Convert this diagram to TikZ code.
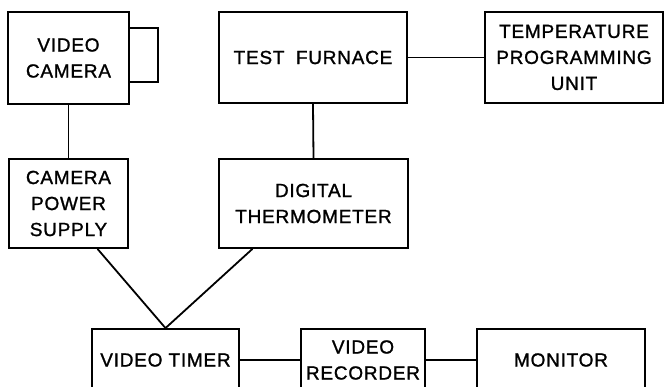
\documentclass[tikz,border=0pt]{standalone}
\usepackage{fontspec}
\setmainfont{Liberation Sans}[LetterSpace=4,FakeBold=1.2]
\usetikzlibrary{calc}
\begin{document}
\begin{tikzpicture}[x=1pt,y=-1pt,
  blk/.style={draw,line width=1.8pt,rectangle,align=center,inner sep=0pt,
    font=\fontsize{19}{26}\selectfont},
  wire/.style={line width=1.8pt}]
\clip (0,0) rectangle (665,387);
\useasboundingbox (0,0) rectangle (665,387);
\node[blk,minimum width=121pt,minimum height=92pt] (cam) at (68.5,58) {VIDEO\\CAMERA};
\node[blk,minimum width=119pt,minimum height=89pt] (cps) at (68.5,203.5) {CAMERA\\POWER\\SUPPLY};
\node[blk,minimum width=188pt,minimum height=91pt] (tf) at (313,57.5) {TEST\hspace{0.6em}FURNACE};
\node[blk,minimum width=178pt,minimum height=91pt] (tpu) at (574,57.5) {TEMPERATURE\\PROGRAMMING\\UNIT};
\node[blk,minimum width=189pt,minimum height=89pt] (dt) at (313.5,203.5) {DIGITAL\\THERMOMETER};
\node[blk,minimum width=147pt,minimum height=62pt] (vt) at (165.5,360) {VIDEO TIMER};
\node[blk,minimum width=124pt,minimum height=62pt] (vr) at (363,360) {VIDEO\\RECORDER};
\node[blk,minimum width=168pt,minimum height=62pt] (mon) at (561,360) {MONITOR};
% camera lens
\coordinate (l1) at ($(cam.north east)+(0,17)$);
\coordinate (l2) at ($(cam.north east)+(0,71)$);
\draw[wire] (l1) -- ++(28,0) |- (l2);
% connectors
\draw[wire] (cam.south) -- (cps.north);
\draw[wire] (tf.south) -- (dt.north);
\draw[wire] (tf.east) -- (tpu.west);
\draw[wire] ($(cps.south west)!0.74!(cps.south east)$) -- (vt.north);
\draw[wire] ($(dt.south west)!0.18!(dt.south east)$) -- (vt.north);
\draw[wire] (vt.east) -- (vr.west);
\draw[wire] (vr.east) -- (mon.west);
\end{tikzpicture}
\end{document}
